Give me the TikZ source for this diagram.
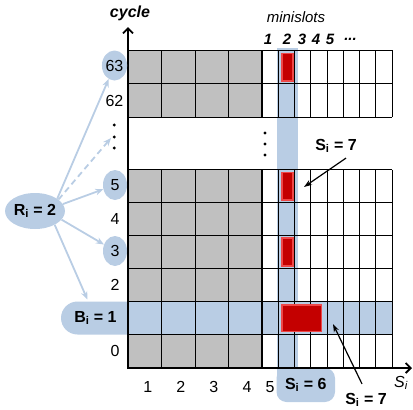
\documentclass[tikz,border=0pt]{standalone}
\usepackage{fontspec}
\setmainfont{Liberation Sans}
\usetikzlibrary{arrows.meta,shapes.geometric}
\definecolor{bub}{RGB}{185,205,228}
\definecolor{cellgray}{RGB}{192,192,192}
\definecolor{barred}{RGB}{196,0,0}
\definecolor{barrim}{RGB}{238,72,72}
\newcommand\subi{\textsubscript{i}}
\begin{document}
\begin{tikzpicture}[x=1pt,y=-1pt,
  lab/.style={font=\fontsize{16}{18}\selectfont, inner sep=0pt},
  blab/.style={font=\fontsize{16}{18}\selectfont\bfseries, inner sep=0pt},
  bubble/.style={ellipse, fill=bub, inner sep=0pt, minimum width=24pt,
    minimum height=30pt, font=\fontsize{16}{18}\selectfont},
  cellline/.style={draw=black, line width=0.9pt},
  redbar/.style={fill=barred, draw=barrim, line width=1.4pt},
  blink/.style={draw=bub, line width=1.8pt, -{Stealth[length=8pt,width=6.5pt]}},
  callout/.style={draw=black, line width=1.2pt, -{Stealth[length=8pt,width=5.5pt]}},
  axis/.style={draw=black, line width=1.8pt, -{Straight Barb[length=5pt,width=10pt]}},
  dotm/.style={circle, fill=black, inner sep=0pt, minimum size=3.2pt}]
\useasboundingbox (0,0) rectangle (413,410);

% gray data slots
\fill[cellgray] (128,50) rectangle (262,117);
\fill[cellgray] (128,169.5) rectangle (262,367.5);

% highlighted base cycle row and minislot column
\fill[bub] (128,301.5) rectangle (392,334.5);
\fill[bub, rounded corners=16.5pt] (61,301.5) rectangle (145,334.5);
\fill[bub] (276.5,48) rectangle (298,392);
\node[blab, rectangle, rounded corners=10pt, fill=bub, minimum width=58.5pt,
  minimum height=34pt] (S6) at (305.75,385) {S\subi{} = 6};

% grid: upper block (cycles 62, 63)
\foreach \y in {50,83.5,117} \draw[cellline] (128,\y) -- (392,\y);
\foreach \x in {161.5,195,228.5} \draw[cellline] (\x,50) -- (\x,117);
\foreach \k in {1,...,8} \draw[cellline] (262+16.25*\k,50) -- (262+16.25*\k,117);
\draw[cellline, line width=1.6pt] (262,50) -- (262,117);

% grid: lower block (cycles 0..5)
\foreach \k in {0,...,5} \draw[cellline] (128,169.5+33*\k) -- (392,169.5+33*\k);
\foreach \x in {161.5,195,228.5} \draw[cellline] (\x,169.5) -- (\x,367.5);
\foreach \k in {1,...,8} \draw[cellline] (262+16.25*\k,169.5) -- (262+16.25*\k,367.5);
\draw[cellline, line width=1.6pt] (262,169.5) -- (262,367.5);

% frames sent in the minislots
\draw[redbar] (282,53.5) rectangle (293,81);
\draw[redbar] (282,172.5) rectangle (293,200);
\draw[redbar] (282,238) rectangle (293,266);
\draw[redbar] (282,305) rectangle (321.5,331.5);

% axes
\coordinate (O) at (128,368);
\coordinate (ytip) at (128,27);
\coordinate (xtip) at (412,368);
\draw[axis] ([yshift=-1pt]O) -- (ytip);
\draw[axis] ([xshift=-1pt]O) -- (xtip);
\node[font=\fontsize{16}{18}\selectfont\bfseries\itshape, inner sep=0pt] (cyc) at (130,13) {cycle};
\node[font=\fontsize{16}{18}\selectfont\itshape, inner sep=0pt] (sax) at (401,383) {S\subi};

% cycle labels
\node[bubble] (n63) at (114.5,65.5) {63};
\node[lab] (n62) at (114.5,100.5) {62};
\node[bubble] (n5) at (115,185) {5};
\node[lab] (n4) at (115,219) {4};
\node[bubble] (n3) at (115,251) {3};
\node[lab] (n2) at (115,285) {2};
\node[blab, minimum width=60pt, minimum height=33pt] (Bi) at (95.5,318) {B\subi{} = 1};
\node[lab] (n0) at (115,351) {0};

% skipped cycles
\node[dotm] (la) at (114.3,125) {};
\node[dotm] (lb) at (114.3,137) {};
\node[dotm] (lc) at (114.3,148) {};
\node[dotm] (ma) at (265,133) {};
\node[dotm] (mb) at (265,144) {};
\node[dotm] (mc) at (265,155) {};

% slot numbers
\node[lab] (c1) at (147.7,387) {1};
\node[lab] (c2) at (180.7,387) {2};
\node[lab] (c3) at (213.7,387) {3};
\node[lab] (c4) at (247,387) {4};
\node[lab] (c5) at (270,387) {5};

% minislot numbers
\node[font=\fontsize{15}{17}\selectfont\itshape, inner sep=0pt] (mini) at (296,17) {minislots};
\begin{scope}[every node/.style={font=\fontsize{15}{17}\selectfont\bfseries\itshape, inner sep=0pt}]
\node (m1) at (268,39) {1};
\node (m2) at (287,39) {2};
\node (m3) at (302,39) {3};
\node (m4) at (316,39) {4};
\node (m5) at (330,39) {5};
\node (m6) at (350.5,39) {...};
\end{scope}

% repetition rate and its cycles
\node[blab, ellipse, fill=bub, minimum width=60pt, minimum height=36pt] (Ri) at (35,211) {R\subi{} = 2};
\coordinate (dd) at (111,138);
\draw[blink] (Ri.29) -- (n63);
\draw[blink, dashed, dash pattern=on 6pt off 4pt] (Ri.26) -- (dd);
\draw[blink] (Ri.14) -- (n5);
\draw[blink] (Ri.-18) -- (n3);
\draw[blink, shorten >=2pt] (Ri.-35) -- (Bi);

% slot annotations
\node[blab] (S7a) at (336,146) {S\subi{} = 7};
\node[blab] (S7b) at (366,400) {S\subi{} = 7};
\coordinate (t1) at (304,187);
\coordinate (t2) at (333,324);
\draw[callout] ([xshift=10pt,yshift=-5pt]S7a.south) -- (t1);
\draw[callout] ([xshift=-4pt,yshift=9pt]S7b.north) -- (t2);
\end{tikzpicture}
\end{document}
